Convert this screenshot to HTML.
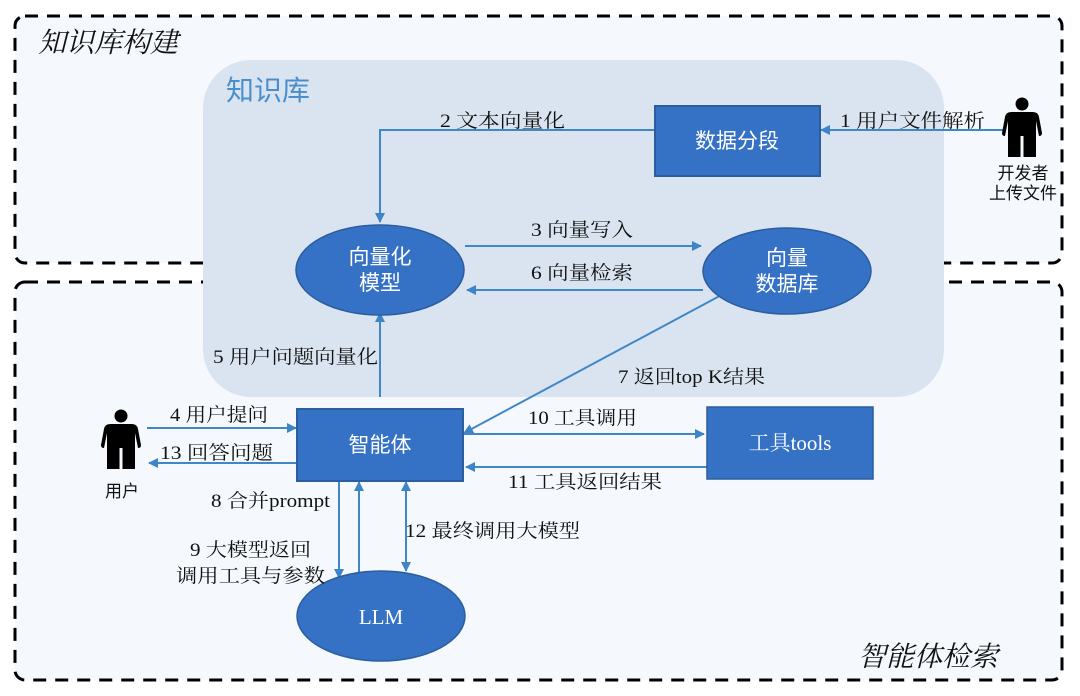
<!DOCTYPE html>
<html><head><meta charset="utf-8"><style>
html,body{margin:0;padding:0;background:#fff;}
svg{display:block;}
.lb{font-family:"Liberation Serif","Noto Serif CJK SC",serif;font-size:19px;fill:#111;}
.nd{font-family:"Liberation Sans","Noto Sans CJK SC",sans-serif;font-size:21px;fill:#fff;}
.ndr{font-family:"Liberation Serif","Noto Serif CJK SC",serif;font-size:21px;fill:#fff;}
.ttl{font-family:"Liberation Serif","Noto Serif CJK SC",serif;font-size:28px;font-style:italic;fill:#111;}
.ps{font-family:"Liberation Sans","Noto Sans CJK SC",sans-serif;font-size:17px;fill:#111;}
</style></head><body>
<svg width="1080" height="696" viewBox="0 0 1080 696" xmlns="http://www.w3.org/2000/svg">
<defs>
<marker id="ah" markerWidth="10" markerHeight="10" refX="9" refY="5" orient="auto" markerUnits="userSpaceOnUse">
<path d="M0,0 L10,5 L0,10 Z" fill="#3d85c6"/>
</marker>
<marker id="as" markerWidth="10" markerHeight="10" refX="1" refY="5" orient="auto" markerUnits="userSpaceOnUse">
<path d="M10,0 L0,5 L10,10 Z" fill="#3d85c6"/>
</marker>
</defs>
<rect width="1080" height="696" fill="#fff"/>
<!-- outer dashed boxes -->
<rect x="15" y="16" width="1047" height="247" rx="10" fill="#f5f9fd" stroke="#000" stroke-width="3" stroke-dasharray="13,9"/>
<rect x="15" y="282" width="1047" height="398" rx="10" fill="#f5f9fd" stroke="#000" stroke-width="3" stroke-dasharray="13,9"/>
<!-- knowledge base -->
<rect x="203" y="60" width="741" height="337" rx="48" fill="#dae4f1"/>
<text class="ttl" x="38" y="52">知识库构建</text>
<text x="226" y="100" style="font-family:'Liberation Sans','Noto Sans CJK SC',sans-serif;font-size:28px;fill:#4a8fcd;">知识库</text>
<text class="ttl" x="858" y="666">智能体检索</text>

<!-- connectors -->
<g stroke="#3f87c7" stroke-width="2" fill="none">
<line x1="1003" y1="130" x2="821" y2="130" marker-end="url(#ah)"/>
<polyline points="655,130 380,130 380,222" marker-end="url(#ah)"/>
<line x1="465" y1="246" x2="701" y2="246" marker-end="url(#ah)"/>
<line x1="703" y1="290" x2="467" y2="290" marker-end="url(#ah)"/>
<line x1="380" y1="397" x2="380" y2="313" marker-end="url(#ah)"/>
<line x1="727" y1="292" x2="464" y2="433" marker-end="url(#ah)"/>
<line x1="147" y1="428" x2="296" y2="428" marker-end="url(#ah)"/>
<line x1="297" y1="463" x2="149" y2="463" marker-end="url(#ah)"/>
<line x1="463" y1="434" x2="704" y2="434" marker-end="url(#ah)"/>
<line x1="707" y1="467" x2="466" y2="467" marker-end="url(#ah)"/>
<line x1="339" y1="481" x2="339" y2="578" marker-end="url(#ah)"/>
<line x1="359" y1="600" x2="359" y2="482" marker-end="url(#ah)"/>
<line x1="406" y1="482" x2="406" y2="571" marker-start="url(#as)" marker-end="url(#ah)"/>
</g>

<!-- nodes -->
<rect x="655" y="106" width="165" height="70" fill="#3572c6" stroke="#2c5d9e" stroke-width="2"/>
<text class="nd" x="737" y="148" text-anchor="middle">数据分段</text>
<ellipse cx="380" cy="270" rx="84" ry="45" fill="#3572c6" stroke="#2c5d9e" stroke-width="1.5"/>
<text class="nd" x="380" y="264" text-anchor="middle">向量化</text>
<text class="nd" x="380" y="290" text-anchor="middle">模型</text>
<ellipse cx="787" cy="271" rx="84" ry="43" fill="#3572c6" stroke="#2c5d9e" stroke-width="1.5"/>
<text class="nd" x="787" y="265" text-anchor="middle">向量</text>
<text class="nd" x="787" y="291" text-anchor="middle">数据库</text>
<rect x="297" y="409" width="166" height="72" fill="#3572c6" stroke="#2c5d9e" stroke-width="2"/>
<text class="nd" x="380" y="452" text-anchor="middle">智能体</text>
<rect x="707" y="407" width="166" height="72" fill="#3572c6" stroke="#2c5d9e" stroke-width="1.5"/>
<text class="ndr" x="790" y="450" text-anchor="middle">工具tools</text>
<ellipse cx="381" cy="616" rx="84" ry="45" fill="#3572c6" stroke="#2c5d9e" stroke-width="1.5"/>
<text class="ndr" x="381" y="624" text-anchor="middle">LLM</text>

<!-- developer person -->
<g fill="#000">
<circle cx="1022" cy="104" r="6.5"/>
<path d="M1011,112 L1033,112 Q1038,112 1039,117 L1042,133 Q1042,136 1039,136 L1036,121 L1036,157 L1029,157 L1029,134 L1015,134 L1015,157 L1008,157 L1008,121 L1005,136 Q1002,136 1002,133 L1005,117 Q1006,112 1011,112 Z"/>
<path d="M1015,130 L1029,130 L1029,157 L1023.5,157 L1023.5,136 L1020.5,136 L1020.5,157 L1015,157 Z"/>
</g>
<text class="ps" x="1023" y="179" text-anchor="middle">开发者</text>
<text class="ps" x="1023" y="199" text-anchor="middle">上传文件</text>

<!-- user person -->
<g fill="#000">
<circle cx="121" cy="416" r="6.5"/>
<path d="M110,424 L132,424 Q137,424 138,429 L141,445 Q141,448 138,448 L135,433 L135,469 L128,469 L128,446 L114,446 L114,469 L107,469 L107,433 L104,448 Q101,448 101,445 L104,429 Q105,424 110,424 Z"/>
<path d="M114,442 L128,442 L128,469 L122.5,469 L122.5,448 L119.5,448 L119.5,469 L114,469 Z"/>
</g>
<text class="ps" x="122" y="497" text-anchor="middle">用户</text>

<!-- labels -->
<text class="lb" x="840" y="127" textLength="145" lengthAdjust="spacingAndGlyphs">1 用户文件解析</text>
<text class="lb" x="440" y="127" textLength="125" lengthAdjust="spacingAndGlyphs">2 文本向量化</text>
<text class="lb" x="531" y="236" textLength="102" lengthAdjust="spacingAndGlyphs">3 向量写入</text>
<text class="lb" x="531" y="279" textLength="102" lengthAdjust="spacingAndGlyphs">6 向量检索</text>
<text class="lb" x="213" y="363" textLength="165" lengthAdjust="spacingAndGlyphs">5 用户问题向量化</text>
<text class="lb" x="618" y="383" textLength="147" lengthAdjust="spacingAndGlyphs">7 返回top K结果</text>
<text class="lb" x="170" y="421" textLength="98" lengthAdjust="spacingAndGlyphs">4 用户提问</text>
<text class="lb" x="160" y="459" textLength="113" lengthAdjust="spacingAndGlyphs">13 回答问题</text>
<text class="lb" x="528" y="424" textLength="109" lengthAdjust="spacingAndGlyphs">10 工具调用</text>
<text class="lb" x="508" y="488" textLength="154" lengthAdjust="spacingAndGlyphs">11 工具返回结果</text>
<text class="lb" x="211" y="507" textLength="119" lengthAdjust="spacingAndGlyphs">8 合并prompt</text>
<text class="lb" x="190" y="556" textLength="121" lengthAdjust="spacingAndGlyphs">9 大模型返回</text>
<text class="lb" x="176" y="582" textLength="149" lengthAdjust="spacingAndGlyphs">调用工具与参数</text>
<text class="lb" x="405" y="537" textLength="175" lengthAdjust="spacingAndGlyphs">12 最终调用大模型</text>
</svg>
</body></html>
